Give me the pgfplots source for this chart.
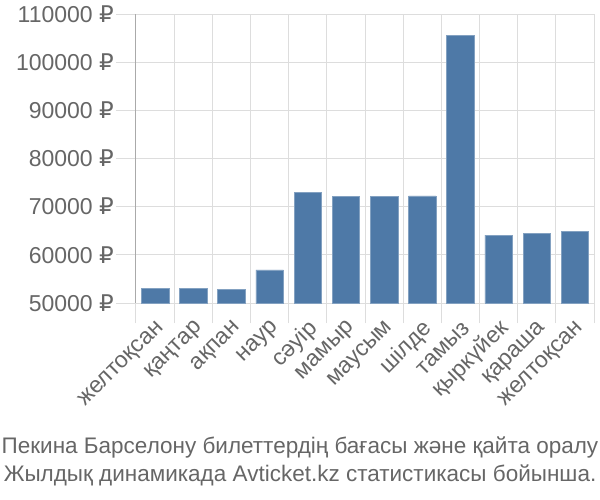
\documentclass[border=0pt]{standalone}
\usepackage{fontspec}
\setmainfont{Liberation Sans}
\newfontfamily\rub{DejaVu Sans}
\usepackage{pgfplots}
\pgfplotsset{compat=1.18}
\definecolor{barblue}{RGB}{78,121,167}
\definecolor{txt}{RGB}{102,102,102}
\definecolor{gridc}{RGB}{221,221,221}
\definecolor{axc}{RGB}{170,170,170}
\newcommand{\R}{{\rub ₽}}
\begin{document}
\begin{tikzpicture}
\path[use as bounding box] (0pt,0pt) rectangle (600pt,-500pt);
\begin{axis}[
  at={(136pt,-303pt)}, anchor=south west,
  scale only axis, width=458pt, height=289pt,
  ymin=50000, ymax=110000, xmin=-0.5, xmax=11.5,
  scaled y ticks=false,
  ytick={50000,60000,...,110000},
  yticklabels={50000 \R,60000 \R,70000 \R,80000 \R,90000 \R,100000 \R,110000 \R},
  xtick={0,...,11},
  xticklabels={желтоқсан,қаңтар,ақпан,наур,сәуір,мамыр,маусым,шілде,тамыз,қыркүйек,қараша,желтоқсан},
  minor xtick={-0.5,0.5,...,11.5},
  ymajorgrids=true, xminorgrids=true,
  grid style={gridc, line width=1pt},
  minor grid style={gridc, line width=1pt},
  tick align=outside, major tick length=20pt, minor tick length=20pt,
  major x tick style={draw=none},
  minor x tick style={gridc, line width=1pt},
  major y tick style={gridc, line width=1pt},
  axis x line*=bottom, axis y line*=left,
  x axis line style={gridc, line width=1pt, -},
  y axis line style={axc, line width=1pt, -},
  tick label style={txt, font=\fontsize{23}{27}\selectfont},
  xticklabel style={rotate=45, anchor=east, inner sep=1pt, xshift=4pt, yshift=-6pt},
  yticklabel style={inner sep=2pt},
  clip=true,
]
\addplot[ybar, bar width=0.72, fill=barblue, draw=barblue!70!white, line width=0.5pt]
  coordinates {(0,53000) (1,53000) (2,52800) (3,56900) (4,73000) (5,72200) (6,72200) (7,72250) (8,105600) (9,64100) (10,64400) (11,64800)};
\end{axis}
\node[txt, anchor=base, font=\fontsize{22.5}{27}\selectfont] at (300pt,-453pt) {Пекина Барселону билеттердің бағасы және қайта оралу};
\node[txt, anchor=base, font=\fontsize{22.5}{27}\selectfont] at (300pt,-481pt) {Жылдық динамикада Avticket.kz статистикасы бойынша.};
\end{tikzpicture}
\end{document}
